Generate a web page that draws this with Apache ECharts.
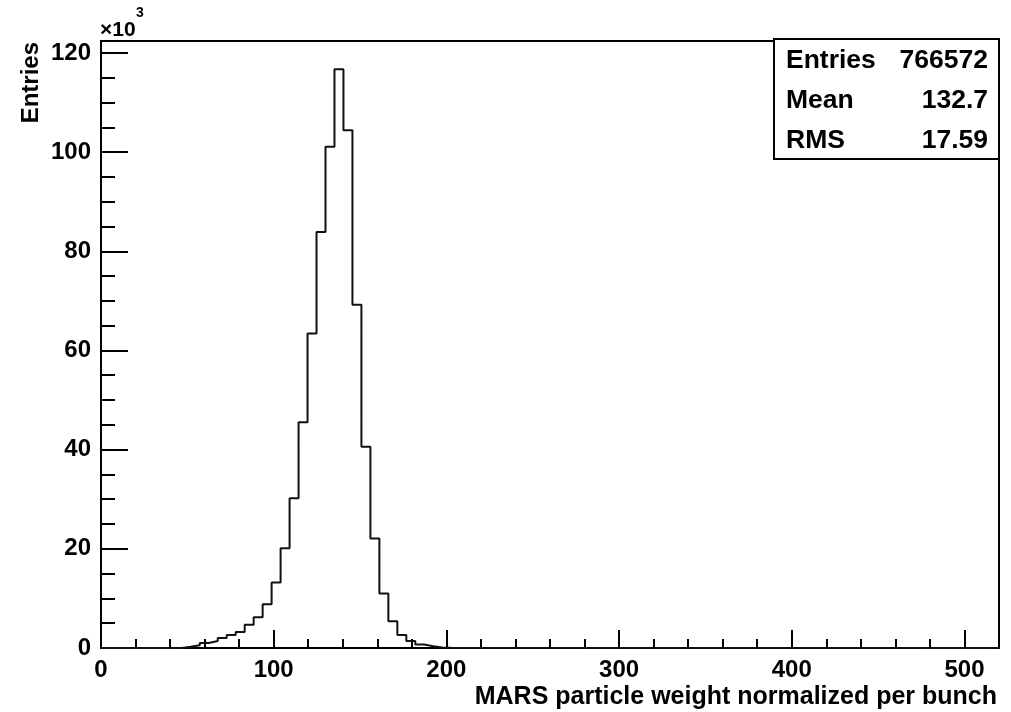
<!DOCTYPE html>
<html>
<head>
<meta charset="utf-8">
<script src="https://cdn.jsdelivr.net/npm/echarts@6/dist/echarts.min.js"></script>
<style>
html,body{margin:0;padding:0;background:#fff;}
#chart{width:1011px;height:712px;}
</style>
</head>
<body>
<div id="chart"></div>
<script>
// Histogram: 100 bins of width 5.2 between 0 and 520 (bins 0..38 listed; the rest are empty)
const binWidth = 5.2;
const binCounts = [
  0, 0, 0, 0, 0, 0, 0, 0, 0,
  250, 550, 1000, 1400, 2000, 2600, 3250, 4700, 6200, 8800,
  13200, 20100, 30200, 45500, 63400, 83900, 101100, 116700, 104400, 69200,
  40600, 22100, 11000, 5400, 2600, 1400, 700, 350, 120, 50
];
const xMajorTicks = [0, 100, 200, 300, 400, 500];
const yMajorTicks = [0, 20000, 40000, 60000, 80000, 100000, 120000];
const statsLabels = ['Entries', 'Mean', 'RMS'];
const statsValues = ['766572', '132.7', '17.59'];

const FONT = '"Liberation Sans", Arial, Helvetica, sans-serif';
const xMax = 520, yMax = 122400;

// step-line points at bin left edges
const stepData = binCounts.map((c, i) => [i * binWidth, c]);
stepData.push([binCounts.length * binWidth, 0]);
stepData.push([xMax, 0]);

const chart = echarts.init(document.getElementById('chart'), null, {renderer: 'canvas'});

const gLeft = 101, gRight = 999, gTop = 41, gBottom = 648;

const graphics = [
  {type: 'rect', z: 100, shape: {x: 774, y: 39, width: 225, height: 120},
   style: {fill: '#fff', stroke: '#000', lineWidth: 2}},
  {type: 'text', x: 31, y: 42, rotation: Math.PI / 2, z: 100,
   style: {text: 'Entries', font: 'bold 24px ' + FONT, fill: '#000', textAlign: 'right', textVerticalAlign: 'middle'}},
  {type: 'text', x: 997, y: 697, z: 100,
   style: {text: 'MARS particle weight normalized per bunch', font: 'bold 25px ' + FONT, fill: '#000', textAlign: 'right', textVerticalAlign: 'middle'}},
  {type: 'text', x: 100, y: 30, z: 100,
   style: {text: '\u00d710', font: 'bold 21px ' + FONT, fill: '#000', textAlign: 'left', textVerticalAlign: 'middle'}},
  {type: 'text', x: 136, y: 13, z: 100,
   style: {text: '3', font: 'bold 14px ' + FONT, fill: '#000', textAlign: 'left', textVerticalAlign: 'middle'}}
];
statsLabels.forEach((lab, i) => {
  graphics.push({type: 'text', x: 786, y: 61 + i * 40, z: 101,
    style: {text: lab, font: 'bold 26.5px ' + FONT, fill: '#000', textAlign: 'left', textVerticalAlign: 'middle'}});
  graphics.push({type: 'text', x: 988, y: 61 + i * 40, z: 101,
    style: {text: statsValues[i], font: 'bold 26.5px ' + FONT, fill: '#000', textAlign: 'right', textVerticalAlign: 'middle'}});
});

const labelStyle = {fontSize: 24, fontWeight: 'bold', color: '#000', fontFamily: FONT};

chart.setOption({
  animation: false,
  backgroundColor: '#fff',
  grid: {left: gLeft, right: 1011 - gRight, top: gTop, bottom: 712 - gBottom,
         show: true, borderColor: '#000', borderWidth: 2, backgroundColor: 'transparent'},
  xAxis: [
    {type: 'value', position: 'bottom', min: 0, max: xMax, interval: 100,
     axisLine: {show: true, onZero: false, lineStyle: {color: '#000', width: 2}},
     axisTick: {show: true, inside: true, length: 18, lineStyle: {color: '#000', width: 2}},
     axisLabel: Object.assign({margin: 10,
       formatter: v => xMajorTicks.indexOf(v) >= 0 ? String(v) : ''}, labelStyle),
     splitLine: {show: false}},
    {type: 'value', position: 'bottom', min: 0, max: xMax, interval: 20,
     axisLine: {show: false, onZero: false},
     axisTick: {show: true, inside: true, length: 9, lineStyle: {color: '#000', width: 2}},
     axisLabel: {show: false}, splitLine: {show: false}}
  ],
  yAxis: [
    {type: 'value', position: 'left', min: 0, max: yMax, interval: 20000,
     axisLine: {show: true, onZero: false, lineStyle: {color: '#000', width: 2}},
     axisTick: {show: true, inside: true, length: 27, lineStyle: {color: '#000', width: 2}},
     axisLabel: Object.assign({margin: 10,
       formatter: v => yMajorTicks.indexOf(v) >= 0 ? String(v / 1000) : ''}, labelStyle),
     splitLine: {show: false}},
    {type: 'value', position: 'left', min: 0, max: yMax, interval: 5000,
     axisLine: {show: false, onZero: false},
     axisTick: {show: true, inside: true, length: 14, lineStyle: {color: '#000', width: 2}},
     axisLabel: {show: false}, splitLine: {show: false}}
  ],
  series: [{
    type: 'line', xAxisIndex: 0, yAxisIndex: 0, step: 'end',
    data: stepData, showSymbol: false, symbol: 'none', clip: false,
    lineStyle: {color: '#111', width: 2}
  }],
  graphic: graphics
});
</script>
</body>
</html>
